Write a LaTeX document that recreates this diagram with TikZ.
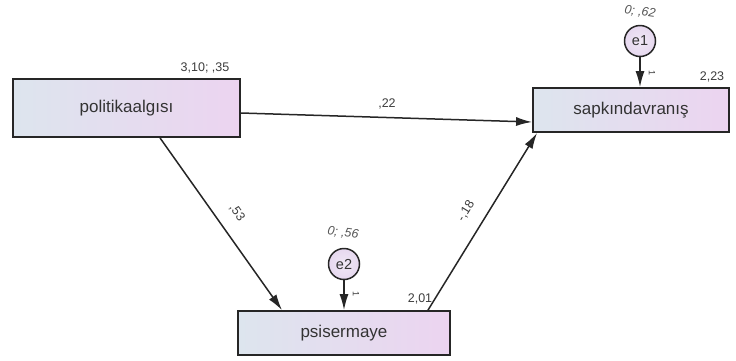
\documentclass[tikz,border=0pt]{standalone}
\usepackage{fontspec}
\setmainfont{Liberation Sans}
\usetikzlibrary{arrows.meta}
\definecolor{boxleft}{HTML}{DDE5EE}
\definecolor{boxright}{HTML}{ECD4F0}
\definecolor{errfill}{HTML}{E6D8EF}
\definecolor{edge}{HTML}{262626}
\definecolor{txt}{HTML}{333333}
\definecolor{numtxt}{HTML}{3C3C3C}
\definecolor{vartxt}{HTML}{555555}
\tikzset{
  obsbox/.style={draw=edge, line width=1.8pt, left color=boxleft, right color=boxright,
    shading angle=90, minimum height=44pt, inner sep=0pt, text=txt,
    font=\fontsize{17}{19}\selectfont},
  errnode/.style={circle, draw=edge, line width=1.5pt, inner color=white!40!errfill,
    outer color=errfill, minimum size=31pt, inner sep=0pt, text=txt,
    font=\fontsize{14.5}{16}\selectfont},
  path/.style={draw=edge, line width=1.5pt, -{Latex[length=16pt,width=9pt]}},
  num/.style={text=numtxt, font=\fontsize{12.5}{14}\selectfont, inner sep=1pt},
  varlab/.style={text=vartxt, font=\itshape\fontsize{12.5}{14}\selectfont, inner sep=1pt},
  onelab/.style={text=numtxt, font=\fontsize{9}{10}\selectfont, inner sep=0pt}
}
\begin{document}
\begin{tikzpicture}[x=1pt, y=-1pt]
  \useasboundingbox (0,0) rectangle (736,360);

  % observed variables
  \node[obsbox, minimum width=227pt, minimum height=58pt] (pol) at (126.5,108) {politikaalgısı};
  \node[obsbox, minimum width=196pt] (sap) at (631,110) {sapkındavranış};
  \node[obsbox, minimum width=212pt] (psi) at (344,333) {psisermaye};

  % error terms
  \node[errnode] (e1) at (640,41) {e1};
  \node[errnode] (e2) at (344,264) {e2};

  % attachment points on the boxes
  \coordinate (polR) at ([yshift=-5pt]pol.east);
  \coordinate (sapL) at ([yshift=-12pt]sap.west);
  \coordinate (polB) at ([xshift=33.5pt]pol.south);
  \coordinate (psiTL) at ([xshift=-62pt]psi.north);
  \coordinate (psiTR) at ([xshift=84pt]psi.north);
  \coordinate (sapBL) at ([xshift=5pt]sap.south west);

  % regression paths
  \draw[path] (polR) -- (sapL);
  \draw[path] (polB) -- (psiTL);
  \draw[path] (psiTR) -- (sapBL);
  \draw[path] (e1) -- (e1 |- sap.north);
  \draw[path] (e2) -- (e2 |- psi.north);

  % path coefficients
  \node[num] (c22) at (387,104) {,22};
  \node[num, rotate=-55] (c53) at (237,213) {,53};
  \node[num, rotate=58] (c18) at (466,211) {-,18};

  % fixed loadings of the error terms
  \node[onelab, rotate=-90] (one1) at (652,73) {1};
  \node[onelab, rotate=-90] (one2) at (356,294) {1};

  % means, variances and intercepts
  \node[num] (m1) at (205,68) {3,10; ,35};
  \node[num] (m2) at (712,77) {2,23};
  \node[num] (m3) at (420,299) {2,01};
  \node[varlab, rotate=-8] (v1) at (640,12) {0; ,62};
  \node[varlab, rotate=-8] (v2) at (343,233) {0; ,56};
\end{tikzpicture}
\end{document}
